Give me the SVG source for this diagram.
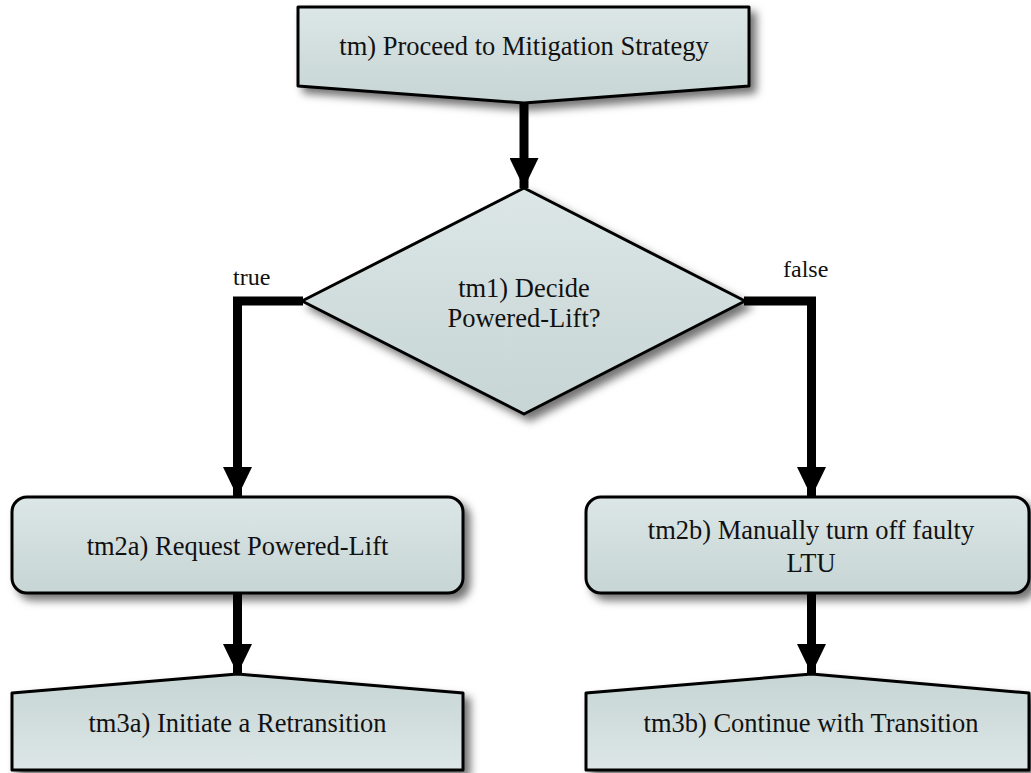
<svg xmlns="http://www.w3.org/2000/svg" width="1031" height="773" viewBox="0 0 1031 773">
  <defs>
    <linearGradient id="gDown" x1="0" y1="0" x2="0" y2="1">
      <stop offset="0" stop-color="#dce6e6"/>
      <stop offset="1" stop-color="#c7d5d5"/>
    </linearGradient>
    <linearGradient id="gUp" x1="0" y1="0" x2="0" y2="1">
      <stop offset="0" stop-color="#c7d5d5"/>
      <stop offset="1" stop-color="#dce6e6"/>
    </linearGradient>
    <filter id="shadow" x="-10%" y="-10%" width="130%" height="140%">
      <feDropShadow dx="6" dy="6" stdDeviation="4" flood-color="#000" flood-opacity="0.55"/>
    </filter>
    <marker id="arrow" viewBox="0 0 30 29" refX="30" refY="14.5" markerWidth="30" markerHeight="29" markerUnits="userSpaceOnUse" orient="auto">
      <path d="M0,0 L30,14.5 L0,29 Z" fill="#000"/>
    </marker>
  </defs>
  <style>
    .shape { stroke: #000; stroke-width: 3; stroke-linejoin: round; filter: url(#shadow); }
    .down { fill: url(#gDown); }
    .up { fill: url(#gUp); }
    .lbl { font-size: 26.5px; fill: #111; text-anchor: middle; }
    .edge { font-size: 24px; fill: #111; }
    .conn { fill: none; stroke: #000; stroke-width: 9; marker-end: url(#arrow); }
  </style>
  <rect width="1031" height="773" fill="#fff"/>

  <g font-family="Liberation Serif, DejaVu Serif, serif">
  <g id="connectors">
    <path class="conn" d="M524,103 L524,188"/>
    <path class="conn" d="M303,301 L237.5,301 L237.5,497"/>
    <path class="conn" d="M744,301 L811.5,301 L811.5,497"/>
    <path class="conn" d="M237.5,593 L237.5,674"/>
    <path class="conn" d="M811.5,593 L811.5,674"/>
    <text class="edge" x="233" y="285" font-family="Liberation Serif, DejaVu Serif, serif">true</text>
    <text class="edge" x="783" y="277" font-family="Liberation Serif, DejaVu Serif, serif">false</text>
  </g>

  <g id="tm">
    <path class="shape down" d="M298,7 L749,7 L749,86 L524,103 L298,86 Z"/>
    <text class="lbl" x="524" y="55" font-family="Liberation Serif, DejaVu Serif, serif">tm) Proceed to Mitigation Strategy</text>
  </g>

  <g id="tm1">
    <path class="shape down" d="M524,188 L745,301 L524,414 L302,301 Z"/>
    <text class="lbl" x="524" y="297" font-family="Liberation Serif, DejaVu Serif, serif">tm1) Decide</text>
    <text class="lbl" x="524" y="327" font-family="Liberation Serif, DejaVu Serif, serif">Powered-Lift?</text>
  </g>

  <g id="tm2a">
    <rect class="shape down" x="12" y="497" width="451" height="96" rx="15" ry="15"/>
    <text class="lbl" x="237.5" y="555" font-family="Liberation Serif, DejaVu Serif, serif">tm2a) Request Powered-Lift</text>
  </g>

  <g id="tm2b">
    <rect class="shape down" x="586" y="497" width="443" height="96" rx="15" ry="15"/>
    <text class="lbl" x="811" y="539" font-family="Liberation Serif, DejaVu Serif, serif">tm2b) Manually turn off faulty</text>
    <text class="lbl" x="811" y="572" font-family="Liberation Serif, DejaVu Serif, serif">LTU</text>
  </g>

  <g id="tm3a">
    <path class="shape up" d="M12,693 L237.5,674 L463,693 L463,770 L12,770 Z"/>
    <text class="lbl" x="237.5" y="732" font-family="Liberation Serif, DejaVu Serif, serif">tm3a) Initiate a Retransition</text>
  </g>

  <g id="tm3b">
    <path class="shape up" d="M586,693 L811.5,674 L1029,693 L1029,770 L586,770 Z"/>
    <text class="lbl" x="811" y="732" font-family="Liberation Serif, DejaVu Serif, serif">tm3b) Continue with Transition</text>
  </g>
  </g>
</svg>
